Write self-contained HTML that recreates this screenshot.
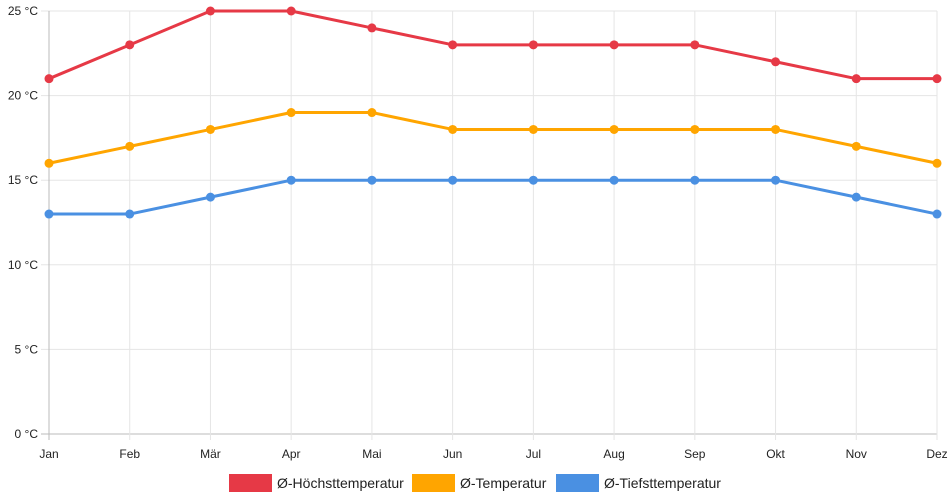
<!DOCTYPE html>
<html><head><meta charset="utf-8">
<style>
html,body{margin:0;padding:0;background:#fff;}
svg{display:block;font-family:"Liberation Sans",sans-serif;}
</style></head>
<body>
<svg id="chart" width="952" height="500" viewBox="0 0 952 500" xmlns="http://www.w3.org/2000/svg"></svg>
<script>
const months = ["Jan","Feb","Mär","Apr","Mai","Jun","Jul","Aug","Sep","Okt","Nov","Dez"];
const yTicks = [0,5,10,15,20,25];
const highs = [21,23,25,25,24,23,23,23,23,22,21,21];
const avgs = [16,17,18,19,19,18,18,18,18,18,17,16];
const lows = [13,13,14,15,15,15,15,15,15,15,14,13];

const NS = "http://www.w3.org/2000/svg";
const svg = document.getElementById("chart");
const X0 = 49, X1 = 937, Y0 = 434, Y1 = 11, YMAX = 25;
function xPos(i){ return X0 + (X1 - X0) * i / (months.length - 1); }
function yPos(v){ return Y0 - (Y0 - Y1) * v / YMAX; }
function mk(tag, attrs){ const e = document.createElementNS(NS, tag); for (const k in attrs) e.setAttribute(k, attrs[k]); svg.appendChild(e); return e; }

// grid
yTicks.forEach(t => {
  const l = mk("line", {x1: X0 - 8, x2: X1, y1: yPos(t), y2: yPos(t), stroke: t === 0 ? "#bbb" : "#e5e5e5", "stroke-width": 1});
  
  
  const tx = mk("text", {x: 38, y: yPos(t) + 4, "text-anchor": "end", "font-size": 12, fill: "#222"});
  tx.textContent = t + " °C";
  
  
});
months.forEach((m, i) => {
  const l = mk("line", {x1: xPos(i), x2: xPos(i), y1: Y1, y2: Y0 + 6, stroke: i === 0 ? "#bbb" : "#e5e5e5", "stroke-width": 1});
  
  
  const tx = mk("text", {x: xPos(i), y: 458, "text-anchor": "middle", "font-size": 12, fill: "#222"});
  tx.textContent = m;
  
  
});

function series(vals, color, name){
  const pts = vals.map((v, i) => xPos(i) + "," + yPos(v)).join(" ");
  const pl = mk("polyline", {points: pts, fill: "none", stroke: color, "stroke-width": 3, "stroke-linejoin": "round"});
  
  
  vals.forEach((v, i) => {
    const c = mk("circle", {cx: xPos(i), cy: yPos(v), r: 4.5, fill: color});
    
    
  });
}
series(lows, "#4a90e2", "low-temp");
series(avgs, "#ffa500", "avg-temp");
series(highs, "#e63946", "high-temp");

// legend
const legend = [["Ø-Höchsttemperatur", "#e63946", 229], ["Ø-Temperatur", "#ffa500", 412], ["Ø-Tiefsttemperatur", "#4a90e2", 556]];
legend.forEach(([label, color, x]) => {
  const r = mk("rect", {x: x, y: 474, width: 43, height: 18, fill: color});
  
  
  const t = mk("text", {x: x + 48, y: 488, "font-size": 14, fill: "#222"});
  t.textContent = label;
  
  
});
</script>
</body></html>
